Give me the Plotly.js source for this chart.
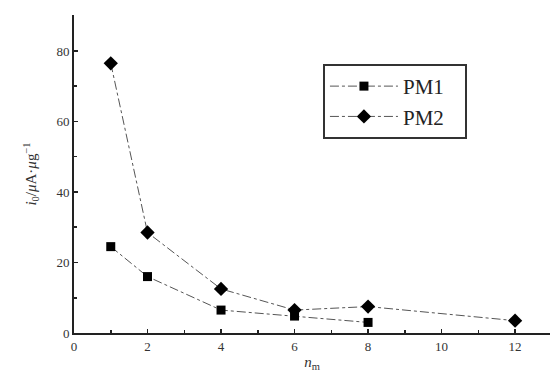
<!DOCTYPE html>
<html>
<head>
<meta charset="utf-8">
<script src="https://cdn.plot.ly/plotly-3.0.1.min.js"></script>
<style>html,body{margin:0;padding:0;background:#fff;}#chart{width:550px;height:373px;}</style>
</head>
<body>
<div id="chart"></div>
<script>
const pm1X = [1, 2, 4, 6, 8];
const pm1Y = [24.5, 16, 6.5, 4.8, 3];
const pm2X = [1, 2, 4, 6, 8, 12];
const pm2Y = [76.5, 28.5, 12.5, 6.5, 7.5, 3.5];
const seriesNames = ["PM1", "PM2"];
const xTicks = [0, 2, 4, 6, 8, 10, 12];
const yTicks = [0, 20, 40, 60, 80];

const serif = "Liberation Serif, Times New Roman, serif";
const pad = "\u00a0\u00a0\u00a0";

const traces = [
  {x: pm1X, y: pm1Y, name: seriesNames[0] + pad, mode: "lines+markers", type: "scatter",
   line: {color: "#555", width: 1, dash: "dashdot"},
   marker: {symbol: "square", size: 9, color: "#000"}},
  {x: pm2X, y: pm2Y, name: seriesNames[1] + pad, mode: "lines+markers", type: "scatter",
   line: {color: "#555", width: 1, dash: "dashdot"},
   marker: {symbol: "diamond", size: 11, color: "#000"}}
];

const layout = {
  width: 550, height: 373,
  margin: {l: 74, r: 0, t: 15, b: 40},
  paper_bgcolor: "#fff", plot_bgcolor: "#fff",
  font: {family: serif, color: "#222", size: 13},
  showlegend: true,
  legend: {x: 0.523, y: 0.846, xanchor: "left", yanchor: "top",
           bordercolor: "#333", borderwidth: 2, bgcolor: "#fff",
           font: {family: serif, size: 21, color: "#222"},
           itemwidth: 68, tracegroupgap: 8},
  xaxis: {range: [0, 12.95], tickvals: xTicks, ticktext: xTicks.map(String),
          showgrid: false, zeroline: false, showline: true, linecolor: "#222", linewidth: 2,
          ticks: "inside", ticklen: 4, tickcolor: "#222", tickwidth: 1.5,
          minor: {dtick: 1, ticks: "inside", ticklen: 3, tickcolor: "#222", showgrid: false},
          tickfont: {family: serif, size: 13, color: "#333"},
          title: {text: "<i>n</i><sub>m</sub>", font: {family: serif, size: 15, color: "#333"}, standoff: 4}},
  yaxis: {range: [0, 90.2], tickvals: yTicks, ticktext: yTicks.map(String),
          showgrid: false, zeroline: false, showline: true, linecolor: "#222", linewidth: 2,
          ticks: "inside", ticklen: 4, tickcolor: "#222", tickwidth: 1.5,
          minor: {dtick: 10, ticks: "inside", ticklen: 3, tickcolor: "#222", showgrid: false},
          tickfont: {family: serif, size: 13, color: "#333"},
          title: {text: "<i>i</i><sub>0</sub>/<i>μ</i>A·<i>μ</i>g<sup>−1</sup>", font: {family: serif, size: 15, color: "#333"}, standoff: 16}}
};

Plotly.newPlot("chart", traces, layout, {displayModeBar: false, staticPlot: true});
</script>
</body>
</html>
